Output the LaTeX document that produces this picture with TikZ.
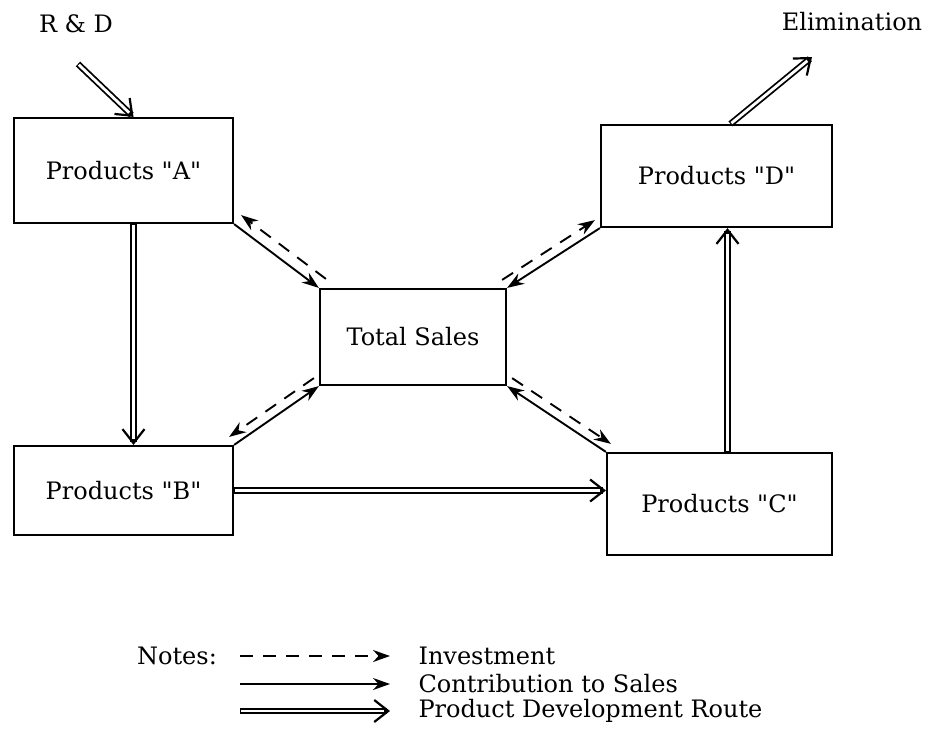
\documentclass[tikz,border=0pt]{standalone}
\usepackage{fontspec}
\usepackage{tikz}
\usetikzlibrary{arrows.meta}
\newfontfamily\diagfont{DejaVu Serif}

\begin{document}
\begin{tikzpicture}[x=1pt,y=-1pt,
    font=\diagfont\fontsize{24}{29}\selectfont,
    prodbox/.style={draw, line width=2.2pt, inner sep=0pt},
    sales/.style={line width=1.9pt, -{Stealth[length=17pt,width=12pt]}},
    invest/.style={line width=1.9pt, dash pattern=on 13pt off 10pt, -{Stealth[length=17pt,width=12pt]}},
    devroute/.style={line width=6.4pt, -{Straight Barb[length=14pt,width=22pt,line width=2.2pt]},
      postaction={draw=white, line width=2.8pt, -, shorten >=6pt, shorten <=1.2pt}}]
      \useasboundingbox (0,0) rectangle (925,728);
      \node[prodbox, minimum width=219pt, minimum height=105pt] (a) at (123.5, 170.5) {Products "A"};
      \node[prodbox, minimum width=219pt, minimum height=89pt] (b) at (123.5, 490.5) {Products "B"};
      \node[prodbox, minimum width=225pt, minimum height=102pt] (c) at (719.5, 504) {Products "C"};
      \node[prodbox, minimum width=231pt, minimum height=102pt] (d) at (716.5, 176) {Products "D"};
      \node[prodbox, minimum width=186pt, minimum height=96pt] (t) at (413, 337) {Total Sales};
      \node (rd) at (76, 24) {R \& D};
      \node (elim) at (852, 22) {Elimination};
      \coordinate (rdin) at (78, 64);
      \coordinate (elimout) at (812, 57);
      \draw [devroute] (rdin) to ([xshift=10pt]a.north);
      \draw [devroute] ([xshift=10pt]a.south) to ([xshift=10pt]b.north);
      \draw [devroute] (b.east) to (b.east -| c.west);
      \draw [devroute] ([xshift=8pt]c.north) to ([xshift=8pt]c.north |- d.south);
      \draw [devroute] ([xshift=14pt]d.north) to (elimout);
      \draw [sales] (a.south east) to (t.north west);
      \draw [sales] (d.south west) to (t.north east);
      \draw [sales] (b.north east) to (t.south west);
      \draw [sales] (c.north west) to (t.south east);
      \draw [invest] ([shift={(7,-9)}]t.north west) to ([shift={(7,-9)}]a.south east);
      \draw [invest] ([shift={(-5,-8)}]t.north east) to ([shift={(-5,-8)}]d.south west);
      \draw [invest] ([shift={(-5,-8)}]t.south west) to ([shift={(-5,-8)}]b.north east);
      \draw [invest] ([shift={(5,-8)}]t.south east) to ([shift={(5,-8)}]c.north west);
      \node (notes) at (177, 656) {Notes:};
      \coordinate (inv1) at (240, 656);
      \coordinate (inv2) at (390, 656);
      \coordinate (con1) at (240, 684);
      \coordinate (con2) at (390, 684);
      \coordinate (dev1) at (240, 711);
      \coordinate (dev2) at (390, 711);
      \draw [invest] (inv1) to (inv2);
      \draw [sales] (con1) to (con2);
      \draw [devroute] (dev1) to (dev2);
      \node[anchor=west] (invtext) at (415, 656) {Investment};
      \node[anchor=west] (context) at (415, 684) {Contribution to Sales};
      \node[anchor=west] (devtext) at (415, 711) {Product Development Route};
    \end{tikzpicture}
\end{document}
